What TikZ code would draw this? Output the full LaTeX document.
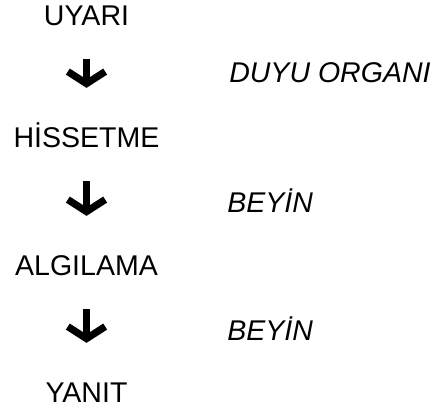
\documentclass[tikz,border=0pt]{standalone}
\usepackage{fontspec}
\setmainfont{Liberation Sans}
\usetikzlibrary{arrows.meta}

\begin{document}
\begin{tikzpicture}
            [x=0.75pt,y=-0.75pt,
             every node/.style={inner sep=0pt,text height=15.3pt,text depth=0pt,font=\fontsize{21.4}{25}\selectfont},
             etiket/.style={anchor=west,font=\fontsize{21.4}{25}\selectfont\itshape},
             ok/.style={line width=5.4pt,shorten <=25.5pt,shorten >=29pt,-{Straight Barb[length=9pt,width=28pt]}}]
            \useasboundingbox (0,0) rectangle (433,411);
            % basamaklar
            \node (uyari) at (86.5,15) {UYARI};
            \node (hissetme) at (86.5,137) {HİSSETME};
            \node (algilama) at (86.5,265) {ALGILAMA};
            \node (yanit) at (86.5,392) {YANIT};
            
            % organlar
            \node[etiket] (duyu) at (229,72.5) {DUYU ORGANI};
            \node[etiket] (beyin1) at (227,202) {BEYİN};
            \node[etiket] (beyin2) at (227,330) {BEYİN};
            
            % oklar
            \draw[ok] (uyari) -- (hissetme);
            \draw[ok] (hissetme) -- (algilama);
            \draw[ok] (algilama) -- (yanit);
        \end{tikzpicture}
\end{document}
